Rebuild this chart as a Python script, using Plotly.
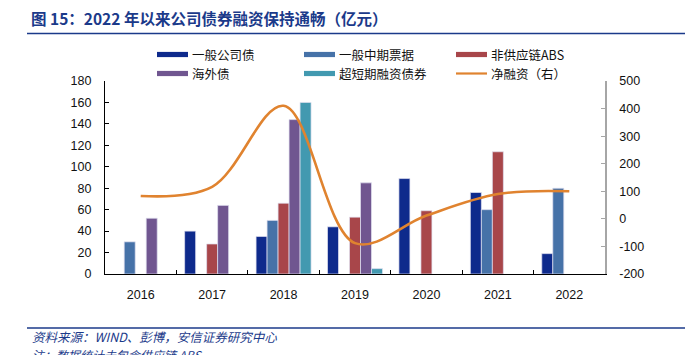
import plotly.graph_objects as go

# ---------------- data ----------------
years = ["2016", "2017", "2018", "2019", "2020", "2021", "2022"]
corp_bond = [None, 40, 35, 44, 89, 76, 19]          # 一般公司债
mtn = [30, None, 50, None, None, 60, 80]             # 一般中期票据
abs_ns = [None, 28, 66, 53, 59, 114, None]           # 非供应链ABS
overseas = [52, 64, 144, 85, None, None, None]       # 海外债
scp = [None, None, 160, 5, None, None, None]         # 超短期融资债券
net_fin = [83, 116, 410, -88, 12, 90, 100]           # 净融资（右）

left_ticks = [0, 20, 40, 60, 80, 100, 120, 140, 160, 180]
right_ticks = [-200, -100, 0, 100, 200, 300, 400, 500]
right_tick_text = ["-200", "-100", "0", "100", "200", "300", "400", "500"]

series_names = ["一般公司债", "一般中期票据", "非供应链ABS", "海外债", "超短期融资债券"]
series_vals = [corp_bond, mtn, abs_ns, overseas, scp]
series_colors = ["#0E2A8C", "#4672A8", "#A8464A", "#705690", "#4299B0"]
line_name = "净融资（右）"
line_color = "#E0832F"

# ---------------- geometry ----------------
# the page body adds an 8px offset; place everything 8px up/left to compensate
OFF = 8
W, H = 693, 355
PL, PT, PW, PH = 105, 81, 500, 193          # plot area in screen pixels
L, T = PL - OFF, PT - OFF
R, B = W - L - PW, H - T - PH


def px(x):
    return (x - PL) / PW


def py(y):
    return (PT + PH - y) / PH


FONT = "Liberation Sans, Arial, Noto Sans CJK SC, sans-serif"
CJK = "Noto Sans CJK SC, Liberation Sans, sans-serif"
BLUE = "#1B3A8A"

fig = go.Figure()
for name, vals, col in zip(series_names, series_vals, series_colors):
    fig.add_trace(go.Bar(
        x=years, y=vals, name=name, marker_color=col,
        marker_line=dict(color="rgba(225,225,240,0.9)", width=0.8),
        showlegend=False,
    ))

fig.add_trace(go.Scatter(
    x=years, y=net_fin, name=line_name, yaxis="y2", mode="lines",
    line=dict(color=line_color, width=2.6, shape="spline", smoothing=1.0),
    showlegend=False,
))

shapes = []
annotations = []

# title
annotations.append(dict(
    xref="paper", yref="paper", x=px(29), y=py(18), xanchor="left", yanchor="middle",
    text="<b>图 15：2022 年以来公司债券融资保持通畅（亿元）</b>", showarrow=False,
    font=dict(family=CJK, size=15.5, color=BLUE),
))
shapes.append(dict(type="line", xref="paper", yref="paper",
                   x0=px(27), x1=px(689), y0=py(33.5), y1=py(33.5),
                   line=dict(color=BLUE, width=1.5)))
shapes.append(dict(type="line", xref="paper", yref="paper",
                   x0=px(27), x1=px(689), y0=py(328), y1=py(328),
                   line=dict(color=BLUE, width=1.5)))
annotations.append(dict(
    xref="paper", yref="paper", x=px(30), y=py(336.5), xanchor="left", yanchor="middle",
    text="<i>资料来源：WIND、彭博，安信证券研究中心</i>", showarrow=False,
    font=dict(family=CJK, size=12.5, color=BLUE),
))
annotations.append(dict(
    xref="paper", yref="paper", x=px(30), y=py(354), xanchor="left", yanchor="middle",
    text="<i>注：数据统计未包含供应链 ABS</i>", showarrow=False,
    font=dict(family=CJK, size=12, color=BLUE),
))

# manual legend
cols_x = [157, 304, 456]
rows_y = [54.5, 73.5]
legend_items = list(zip(series_names, series_colors, ["bar"] * 5)) + [(line_name, line_color, "line")]
for i, (name, col, kind) in enumerate(legend_items):
    cx = cols_x[i % 3]
    cy = rows_y[i // 3]
    if kind == "bar":
        shapes.append(dict(type="rect", xref="paper", yref="paper",
                           x0=px(cx), x1=px(cx + 31), y0=py(cy - 2.6), y1=py(cy + 2.6),
                           fillcolor=col, line=dict(width=0)))
    else:
        shapes.append(dict(type="line", xref="paper", yref="paper",
                           x0=px(cx), x1=px(cx + 31), y0=py(cy), y1=py(cy),
                           line=dict(color=col, width=2.2)))
    annotations.append(dict(
        xref="paper", yref="paper", x=px(cx + 33), y=py(cy), xanchor="left", yanchor="middle",
        text=name, showarrow=False, font=dict(family=CJK, size=12.5, color="#111"),
    ))

fig.update_layout(
    width=W, height=H, margin=dict(l=L, r=R, t=T, b=B, pad=0),
    paper_bgcolor="white", plot_bgcolor="white",
    barmode="group", bargap=0.23, bargroupgap=0,
    font=dict(family=FONT, size=12, color="#111"),
    showlegend=False,
    shapes=shapes, annotations=annotations,
    xaxis=dict(
        type="category", range=[-0.5, 6.5], showgrid=False,
        showline=True, linecolor="#000", linewidth=1.2,
        ticks="inside", tickson="boundaries", ticklen=4, tickcolor="#000",
        tickfont=dict(family=FONT, size=12.5, color="#111"),
        ticklabelstandoff=9,
    ),
    yaxis=dict(
        range=[0, 180], tickvals=left_ticks, showgrid=False, zeroline=False,
        showline=True, linecolor="#000", linewidth=1.2,
        ticks="inside", ticklen=4, tickcolor="#000",
        tickfont=dict(family=FONT, size=12.5, color="#111"),
        ticklabelstandoff=10,
    ),
    yaxis2=dict(
        range=[-200, 500], tickvals=right_ticks, ticktext=right_tick_text,
        overlaying="y", side="right", showgrid=False, zeroline=False,
        showline=True, linecolor="#A6A6A6", linewidth=1.5,
        ticks="inside", ticklen=4, tickcolor="#A6A6A6",
        tickfont=dict(family=FONT, size=12.5, color="#111"),
        ticklabelstandoff=10,
    ),
)

fig.write_html("out.html")
